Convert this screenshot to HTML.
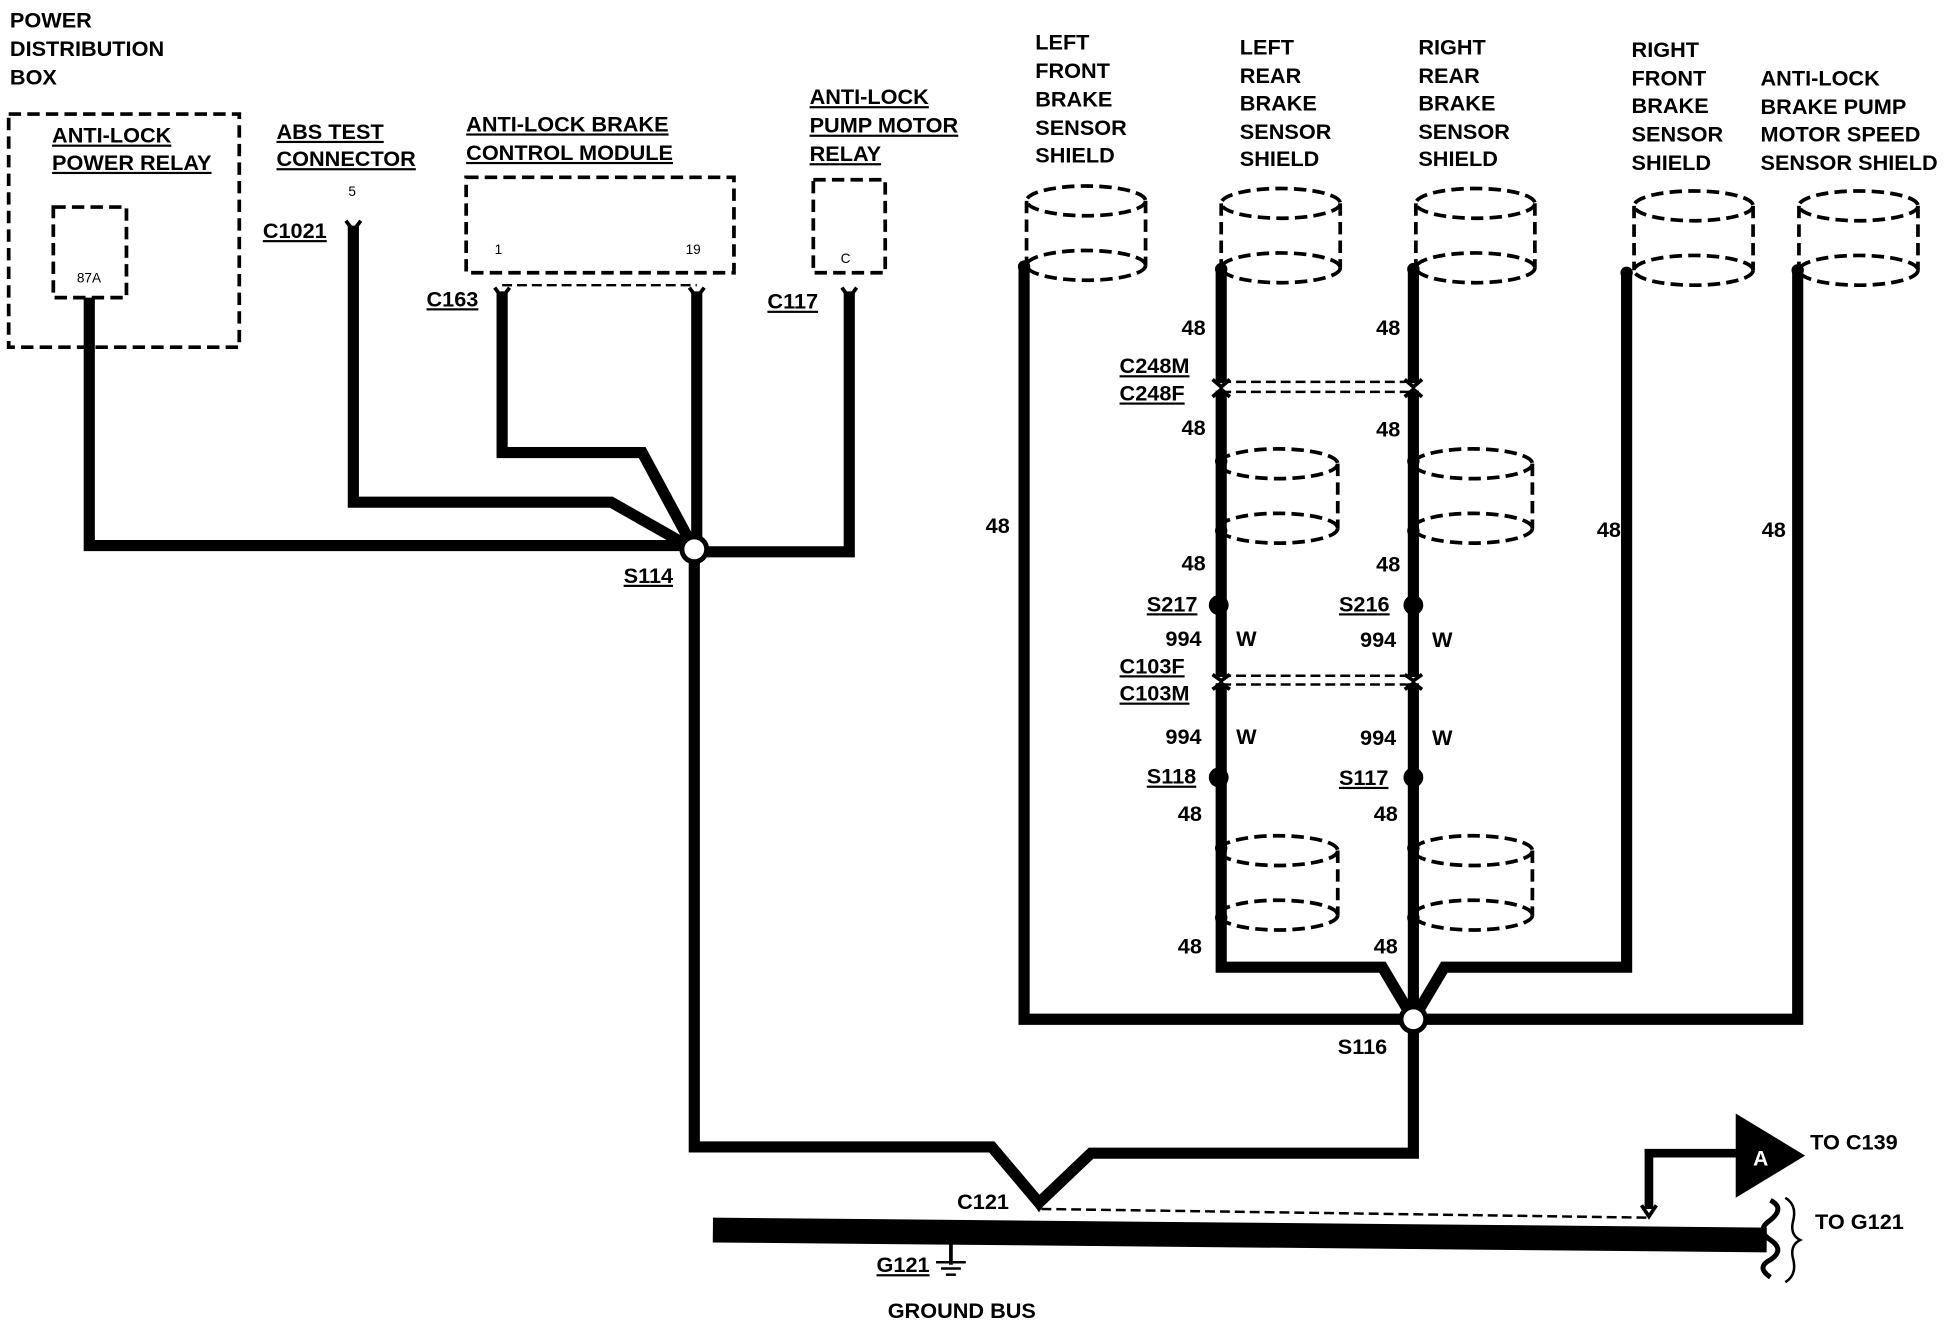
<!DOCTYPE html>
<html><head><meta charset="utf-8"><style>
html,body{margin:0;padding:0;background:#fff;}
svg{display:block;}
text{font-family:"Liberation Sans",sans-serif;font-weight:bold;font-size:17.5px;fill:#000;}
.s{font-size:11px;font-weight:normal;}
.w{fill:none;stroke:#000;stroke-width:9;stroke-linejoin:miter;}
.d{fill:none;stroke:#000;stroke-width:3;stroke-dasharray:10 5;}
.dl{fill:none;stroke:#000;stroke-width:2;stroke-dasharray:8 4;}
</style></head><body>
<svg width="1944" height="1328" viewBox="0 0 1568 1071" preserveAspectRatio="none" xmlns="http://www.w3.org/2000/svg">
<defs>
<g id="cyl">
<ellipse cx="0" cy="0" rx="48" ry="12" class="d"/>
<ellipse cx="0" cy="52" rx="48" ry="12" class="d"/>
<line x1="-48" y1="0" x2="-48" y2="52" class="d"/>
<line x1="48" y1="0" x2="48" y2="52" class="d"/>
</g>
</defs>
<text x="8" y="22">POWER</text><text x="8" y="45">DISTRIBUTION</text><text x="8" y="68">BOX</text>
<rect x="7" y="92" width="186" height="188" class="d"/>
<text x="42" y="115" text-decoration="underline">ANTI-LOCK</text>
<text x="42" y="137" text-decoration="underline">POWER RELAY</text>
<rect x="43" y="167" width="59" height="73" class="d"/>
<text x="62" y="228" class="s">87A</text>
<text x="223" y="112" text-decoration="underline">ABS TEST</text>
<text x="223" y="134" text-decoration="underline">CONNECTOR</text>
<text x="281" y="158" class="s">5</text>
<text x="212" y="192" text-decoration="underline">C1021</text>
<text x="376" y="106" text-decoration="underline">ANTI-LOCK BRAKE</text>
<text x="376" y="129" text-decoration="underline">CONTROL MODULE</text>
<rect x="376" y="143" width="216" height="77" class="d"/>
<text x="399" y="205" class="s">1</text><text x="553" y="205" class="s">19</text>
<text x="344" y="247" text-decoration="underline">C163</text>
<line x1="405" y1="230" x2="562" y2="230" class="dl"/>
<text x="653" y="84" text-decoration="underline">ANTI-LOCK</text>
<text x="653" y="107" text-decoration="underline">PUMP MOTOR</text>
<text x="653" y="130" text-decoration="underline">RELAY</text>
<rect x="656" y="145" width="58" height="75" class="d"/>
<text x="678" y="212" class="s">C</text>
<text x="619" y="249" text-decoration="underline">C117</text>
<path class="w" d="M72,240 V440 H560"/>
<path class="w" d="M285,182 V405 H493 L560,443"/>
<path class="w" d="M405,235 V365 H518 L560,443"/>
<path class="w" d="M562,235 V443"/>
<path class="w" d="M685,235 V445 H560"/>
<path class="w" d="M560,443 V925 H800 L838,970 L880,930 H1140 V822"/>
<circle cx="560" cy="443" r="10" fill="#fff" stroke="#000" stroke-width="4"/>
<text x="503" y="470" text-decoration="underline">S114</text>
<path d="M279,178 L285,186 L291,178" fill="none" stroke="#000" stroke-width="3"/>
<path d="M399,232 L405,240 L411,232" fill="none" stroke="#000" stroke-width="3"/>
<path d="M556,232 L562,240 L568,232" fill="none" stroke="#000" stroke-width="3"/>
<path d="M679,232 L685,240 L691,232" fill="none" stroke="#000" stroke-width="3"/>
<text x="835" y="40">LEFT</text><text x="835" y="63">FRONT</text><text x="835" y="86">BRAKE</text><text x="835" y="109">SENSOR</text><text x="835" y="131">SHIELD</text>
<text x="1000" y="44">LEFT</text><text x="1000" y="67">REAR</text><text x="1000" y="89">BRAKE</text><text x="1000" y="112">SENSOR</text><text x="1000" y="134">SHIELD</text>
<text x="1144" y="44">RIGHT</text><text x="1144" y="67">REAR</text><text x="1144" y="89">BRAKE</text><text x="1144" y="112">SENSOR</text><text x="1144" y="134">SHIELD</text>
<text x="1316" y="46">RIGHT</text><text x="1316" y="69">FRONT</text><text x="1316" y="91">BRAKE</text><text x="1316" y="114">SENSOR</text><text x="1316" y="137">SHIELD</text>
<text x="1420" y="69">ANTI-LOCK</text><text x="1420" y="92">BRAKE PUMP</text><text x="1420" y="114">MOTOR SPEED</text><text x="1420" y="137">SENSOR SHIELD</text>
<use href="#cyl" x="876" y="162"/>
<use href="#cyl" x="1033" y="164"/>
<use href="#cyl" x="1190" y="164"/>
<use href="#cyl" x="1366" y="166"/>
<use href="#cyl" x="1499" y="166"/>
<use href="#cyl" x="1031" y="374"/>
<use href="#cyl" x="1188" y="374"/>
<use href="#cyl" x="1031" y="686"/>
<use href="#cyl" x="1188" y="686"/>
<path class="w" d="M826,215 V822 H1140"/>
<path class="w" d="M1140,822 H1450 V218"/>
<path class="w" d="M1140,822 L1165,780 H1312 V220"/>
<path class="w" d="M1140,822 L1115,780 H985 V215"/>
<path class="w" d="M1140,822 V215"/>
<circle cx="1140" cy="822" r="10" fill="#fff" stroke="#000" stroke-width="4"/>
<text x="1079" y="850">S116</text>
<line x1="985" y1="308" x2="1140" y2="308" class="dl"/>
<line x1="985" y1="316" x2="1140" y2="316" class="dl"/>
<line x1="985" y1="545" x2="1140" y2="545" class="dl"/>
<line x1="985" y1="552" x2="1140" y2="552" class="dl"/>
<g fill="#fff" stroke="none">
<rect x="978" y="309" width="14" height="6"/><rect x="1133" y="309" width="14" height="6"/>
<rect x="978" y="546" width="14" height="5"/><rect x="1133" y="546" width="14" height="5"/>
</g>
<g fill="none" stroke="#000" stroke-width="3">
<path d="M978,306 L985,312 L992,306"/><path d="M978,320 L985,314 L992,320"/>
<path d="M1133,306 L1140,312 L1147,306"/><path d="M1133,320 L1140,314 L1147,320"/>
<path d="M978,544 L985,549 L992,544"/><path d="M978,556 L985,551 L992,556"/>
<path d="M1133,544 L1140,549 L1147,544"/><path d="M1133,556 L1140,551 L1147,556"/>
</g>
<g fill="#000">
<circle cx="826" cy="215" r="5"/><circle cx="985" cy="217" r="5"/><circle cx="1140" cy="217" r="5"/>
<circle cx="1312" cy="220" r="5"/><circle cx="1450" cy="218" r="5"/>
<circle cx="985" cy="372" r="5"/><circle cx="1140" cy="372" r="5"/>
<circle cx="985" cy="428" r="5"/><circle cx="1140" cy="428" r="5"/>
<circle cx="985" cy="684" r="5"/><circle cx="1140" cy="684" r="5"/>
<circle cx="985" cy="740" r="5"/><circle cx="1140" cy="740" r="5"/>
<circle cx="983" cy="488" r="8"/><circle cx="1140" cy="488" r="8"/>
<circle cx="983" cy="627" r="8"/><circle cx="1140" cy="627" r="8"/>
</g>
<text x="953" y="270">48</text><text x="1110" y="270">48</text>
<text x="903" y="301" text-decoration="underline">C248M</text>
<text x="903" y="323" text-decoration="underline">C248F</text>
<text x="953" y="351">48</text><text x="1110" y="352">48</text>
<text x="795" y="430">48</text>
<text x="953" y="460">48</text><text x="1110" y="461">48</text>
<text x="925" y="493" text-decoration="underline">S217</text>
<text x="1080" y="493" text-decoration="underline">S216</text>
<text x="940" y="521">994</text><text x="997" y="521">W</text>
<text x="1097" y="522">994</text><text x="1155" y="522">W</text>
<text x="903" y="543" text-decoration="underline">C103F</text>
<text x="903" y="565" text-decoration="underline">C103M</text>
<text x="940" y="600">994</text><text x="997" y="600">W</text>
<text x="1097" y="601">994</text><text x="1155" y="601">W</text>
<text x="925" y="632" text-decoration="underline">S118</text>
<text x="1080" y="633" text-decoration="underline">S117</text>
<text x="950" y="662">48</text><text x="1108" y="662">48</text>
<text x="950" y="769">48</text><text x="1108" y="769">48</text>
<text x="1288" y="433">48</text><text x="1421" y="433">48</text>
<line x1="575" y1="992" x2="1425" y2="1000" stroke="#000" stroke-width="20"/>
<line x1="840" y1="975" x2="1328" y2="982" class="dl"/>
<path d="M832,966 L838,975 L844,966" fill="none" stroke="#000" stroke-width="3"/>
<path class="w" style="stroke-width:7" d="M1330,975 V930 H1402"/>
<path d="M1324,972 L1330,981 L1336,972" fill="none" stroke="#000" stroke-width="3"/>
<polygon points="1400,898 1456,932 1400,966" fill="#000"/>
<text x="1414" y="940" style="fill:#fff;font-size:17px">A</text>
<text x="1460" y="927">TO C139</text>
<path d="M1428,968 q12,6 0,16 q-12,8 0,16 q12,8 0,16 q-12,6 0,14" fill="none" stroke="#000" stroke-width="4"/>
<path d="M1440,966 q10,6 6,20 q-2,10 6,14 q-8,4 -6,14 q4,14 -6,20" fill="none" stroke="#000" stroke-width="2"/>
<text x="1464" y="991">TO G121</text>
<text x="772" y="975">C121</text>
<line x1="767" y1="1000" x2="767" y2="1020" stroke="#000" stroke-width="3"/>
<line x1="755" y1="1018" x2="779" y2="1018" stroke="#000" stroke-width="2"/>
<line x1="759" y1="1023" x2="775" y2="1023" stroke="#000" stroke-width="2"/>
<line x1="763" y1="1028" x2="771" y2="1028" stroke="#000" stroke-width="2"/>
<text x="707" y="1026" text-decoration="underline">G121</text>
<text x="716" y="1063">GROUND BUS</text>
</svg>
</body></html>
